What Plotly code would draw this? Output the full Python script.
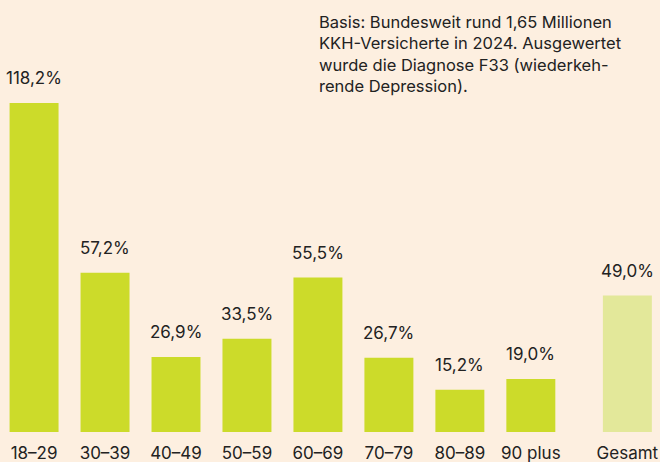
import plotly.graph_objects as go

categories = ["18–29", "30–39", "40–49", "50–59", "60–69", "70–79", "80–89", "90 plus", "Gesamt"]
values = [118.2, 57.2, 26.9, 33.5, 55.5, 26.7, 15.2, 19.0, 49.0]
labels = ["118,2%", "57,2%", "26,9%", "33,5%", "55,5%", "26,7%", "15,2%", "19,0%", "49,0%"]
note = ("Basis: Bundesweit rund 1,65 Millionen<br>KKH-Versicherte in 2024. Ausgewertet<br>"
        "wurde die Diagnose F33 (wiederkeh-<br>rende Depression).")

BG = "#fdefe0"
GREEN = "#ccdb2a"
LIGHT = "#e3e89a"
TXT = "#222222"
FONT = "Inter"
GAP = 0.36  # extra space before the total bar

n = len(categories)
xpos = [i if i < n - 1 else i + GAP for i in range(n)]
colors = [GREEN] * (n - 1) + [LIGHT]

fig = go.Figure()
fig.add_trace(go.Bar(
    x=xpos, y=values, width=0.69,
    marker=dict(color=colors, line=dict(width=0)),
    hoverinfo="skip",
))

for xv, yv, lab in zip(xpos, values, labels):
    fig.add_annotation(x=xv, y=yv, text=lab, showarrow=False,
                       xanchor="center", yanchor="bottom", yshift=13,
                       font=dict(family=FONT, size=17, color=TXT))

fig.add_annotation(xref="paper", yref="paper", x=317 / 660, y=1, xanchor="left", yanchor="top",
                   text=note, showarrow=False, align="left", yshift=-10,
                   font=dict(family=FONT, size=16.5, color=TXT))

fig.update_layout(
    width=660, height=462,
    margin=dict(l=0, r=0, t=0, b=30),
    paper_bgcolor=BG, plot_bgcolor=BG,
    showlegend=False,
    font=dict(family=FONT, color=TXT),
    xaxis=dict(range=[-0.48, 8.82], tickvals=xpos, ticktext=categories,
               showgrid=False, zeroline=False, showline=False, ticks="",
               ticklabelstandoff=9, automargin=False,
               tickfont=dict(family=FONT, size=17, color=TXT), fixedrange=True),
    yaxis=dict(range=[0, 155.2], visible=False, fixedrange=True),
)

fig.write_html("out.html", config={"displayModeBar": False},
               post_script="document.body.style.margin='0';document.body.style.background='" + BG + "';")
